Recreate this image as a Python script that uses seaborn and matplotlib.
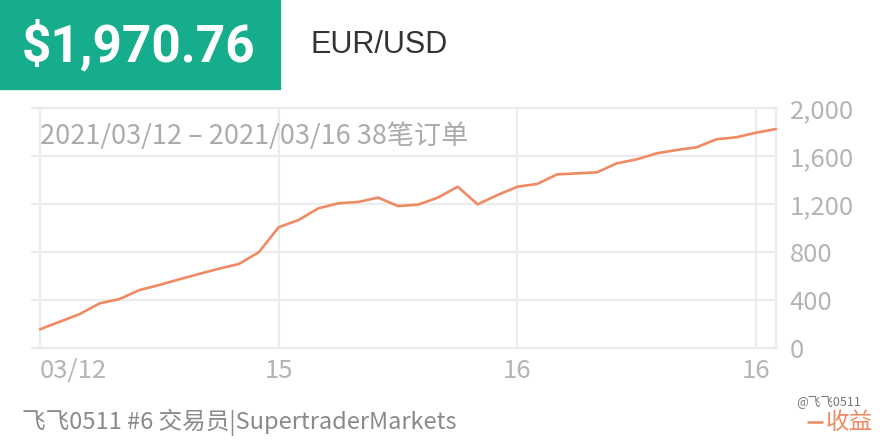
import numpy as np
import pandas as pd
import matplotlib
matplotlib.use("Agg")
import matplotlib.pyplot as plt
from matplotlib.patches import Rectangle
from matplotlib.lines import Line2D
import seaborn as sns

# ---------- Data ----------

balance_label = "$1,970.76"
symbol = "EUR/USD"
subtitle = "2021/03/12 – 2021/03/16 38笔订单"
footer = "飞飞0511 #6 交易员|SupertraderMarkets"
legend_label = "收益"

# cumulative profit after each of the 38 orders
profit = [156, 219, 283, 372, 408, 483, 525, 572, 617, 661,
          700, 798, 1006, 1067, 1164, 1206, 1217, 1253, 1183, 1194,
          1253, 1344, 1197, 1275, 1344, 1367, 1447, 1455, 1464, 1539,
          1572, 1622, 1650, 1672, 1739, 1756, 1794, 1825]

x_tick_pos = [0, 12, 24, 36]
x_tick_labels = ["03/12", "15", "16", "16"]
y_ticks = [0, 400, 800, 1200, 1600, 2000]

df = pd.DataFrame({"order": np.arange(len(profit)), "profit": profit})

# ---------- Style ----------

sns.set_theme(style="white")
plt.rcParams['font.family'] = ['Noto Sans CJK SC', 'DejaVu Sans']
plt.rcParams['font.weight'] = 'light'

LINE = "#EF8A63"
GRID = "#ECECEC"
TICK = "#B4B4B4"
TEAL = "#15AD8C"

fig = plt.figure(figsize=(8.8, 4.4), dpi=100)
ax = fig.add_axes([32 / 880, 92 / 440, 745 / 880, 240 / 440])

# grid drawn by hand so edge lines are not clipped
for t in y_ticks:
    ax.axhline(t, color=GRID, lw=1.6, zorder=0, clip_on=False)
for t in x_tick_pos + [len(profit) - 1]:
    ax.axvline(t, color=GRID, lw=1.6, zorder=0, clip_on=False)

sns.lineplot(data=df, x="order", y="profit", color=LINE, linewidth=1.9, ax=ax, zorder=3)

ax.set_xlim(-0.4, len(profit) - 1 + 0.05)
ax.set_ylim(0, 2000)
for s in ax.spines.values():
    s.set_visible(False)
ax.set_xlabel("")
ax.set_ylabel("")

ax.set_xticks(x_tick_pos)
ax.set_xticklabels(x_tick_labels)
ax.yaxis.tick_right()
ax.set_yticks(y_ticks)
ax.set_yticklabels([f"{v:,}" for v in y_ticks])
ax.tick_params(axis="x", length=0, pad=7, labelsize=18.5, labelcolor=TICK)
ax.tick_params(axis="y", length=0, pad=9, labelsize=18.5, labelcolor=TICK)
ax.get_xticklabels()[0].set_horizontalalignment("left")

ax.text(0, 1765, subtitle, fontsize=19.5, color="#ABABAB", va="center", ha="left", zorder=4)

# ---------- Header ----------

# white band hides the top of the "2,000" label, as in the app screenshot
fig.patches.append(Rectangle((0.5, (440 - 100) / 440), 0.5, 100 / 440,
                             transform=fig.transFigure, color="white", zorder=5))
fig.patches.append(Rectangle((0, (440 - 89) / 440), 280 / 880, 89 / 440,
                             transform=fig.transFigure, color=TEAL, zorder=6))
fig.text(22 / 880, 1 - 46 / 440, balance_label, color="white", fontsize=37,
         fontweight="bold", family="Roboto", va="center", ha="left", zorder=7)
fig.text(310 / 880, 1 - 45 / 440, symbol, color="#333333", fontsize=22,
         fontweight="normal", family="Liberation Sans", va="center", ha="left", zorder=7)

# ---------- Footer ----------

fig.text(22 / 880, 1 - 422 / 440, footer, color="#8A8A8A", fontsize=17,
         va="center", ha="left")
fig.add_artist(Line2D([808 / 880, 822 / 880], [1 - 422 / 440] * 2,
                      color=LINE, lw=1.8, transform=fig.transFigure))
fig.text(826 / 880, 1 - 422 / 440, legend_label, color=LINE, fontsize=17,
         va="center", ha="left")
fig.text(796 / 880, 1 - 402 / 440, "@飞飞0511", color="#555555", fontsize=9,
         va="center", ha="left", alpha=0.8)

fig.savefig("out.png", dpi=100)
